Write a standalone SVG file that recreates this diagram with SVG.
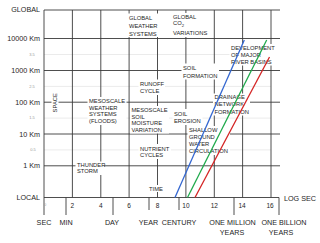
<svg xmlns="http://www.w3.org/2000/svg" width="320" height="243" viewBox="0 0 320 243">
<style>
text{font-family:"Liberation Sans",Arial,Helvetica,sans-serif;fill:#1e1e1e}
.ax{font-size:7.2px}
.lb{font-size:5.8px}
.tk{font-size:6.5px;text-anchor:middle}
.mn{font-size:4px;fill:#9a9a9a}
.g{stroke:#3a3a3a;stroke-width:0.9;fill:none}
.m{stroke:#e2e2e2;stroke-width:0.7;fill:none}
.bg{fill:#fff}
.tr{fill:none;stroke-width:1.3}
</style>
<rect width="320" height="243" fill="#fff"/>
<g id="grid">
<path class="m" d="M44 54.5H271M44 86.4H271M44 118.1H271M44 149.9H271"/>
<path class="g" d="M44 10H280M44 38.5H280M44 70.5H280M44 102.2H280M44 134H280M44 165.8H280M44 197.5H279"/>
<path class="g" d="M44 10V215M72.4 10V197.5M100.8 10V197.5M129.1 10V197.5M157.5 10V197.5M185.9 10V197.5M214.3 10V197.5M242.6 10V197.5M271 10V197.5"/>
<path class="g" d="M66 197.5V215M113 197.5V215M149 197.5V210M179 197.5V210M234 197.5V215M279 197.5V215"/>
</g>
<g id="y-axis">
<text class="ax" x="40" y="11.5" text-anchor="end">GLOBAL</text>
<text class="ax" x="40" y="41" text-anchor="end">10000 Km</text>
<text class="ax" x="40" y="73.2" text-anchor="end">1000 Km</text>
<text class="ax" x="40" y="104.8" text-anchor="end">100 Km</text>
<text class="ax" x="40" y="136.5" text-anchor="end">10 Km</text>
<text class="ax" x="40" y="168.4" text-anchor="end">1 Km</text>
<text class="ax" x="40" y="200" text-anchor="end">LOCAL</text>
<text class="mn" x="32" y="55.8" text-anchor="middle">3.5</text>
<text class="mn" x="32" y="87.7" text-anchor="middle">2.5</text>
<text class="mn" x="32" y="119.4" text-anchor="middle">1.5</text>
<text class="mn" x="33" y="151.2" text-anchor="middle">0.5</text>
</g>
<g id="x-axis">
<text class="mn" x="45" y="205.5" text-anchor="middle">0</text>
<text class="tk" x="72.4" y="207.8">2</text>
<text class="tk" x="100.8" y="207.8">4</text>
<text class="tk" x="129.1" y="207.8">6</text>
<text class="tk" x="157.5" y="207.8">8</text>
<text class="tk" x="185.9" y="207.8">10</text>
<text class="tk" x="214.3" y="207.8">12</text>
<text class="tk" x="242" y="207.8">14</text>
<text class="tk" x="270" y="207.8">16</text>
<text class="ax" x="284" y="200.5">LOG SEC</text>
<text class="ax" x="44" y="225" text-anchor="middle">SEC</text>
<text class="ax" x="66" y="225" text-anchor="middle">MIN</text>
<text class="ax" x="112" y="225" text-anchor="middle">DAY</text>
<text class="ax" x="148.5" y="225" text-anchor="middle">YEAR</text>
<text class="ax" x="179" y="225" text-anchor="middle">CENTURY</text>
<text class="ax" x="232.5" y="225" text-anchor="middle">ONE MILLION</text>
<text class="ax" x="232" y="234.5" text-anchor="middle">YEARS</text>
<text class="ax" x="284" y="225" text-anchor="middle">ONE BILLION</text>
<text class="ax" x="281" y="234.5" text-anchor="middle">YEARS</text>
</g>
<g id="space">
<rect class="bg" x="51.5" y="92" width="7" height="22"/>
<text class="lb" transform="translate(57.3 102.8) rotate(-90)" text-anchor="middle">SPACE</text>
</g>
<g id="global-weather-systems">
<rect class="bg" x="127.5" y="13.5" width="31.5" height="23.5"/>
<text class="lb" x="129" y="19.5">GLOBAL</text>
<text class="lb" x="129" y="27.5">WEATHER</text>
<text class="lb" x="129" y="35.5">SYSTEMS</text>
</g>
<g id="global-co2">
<rect class="bg" x="171.5" y="13" width="36.5" height="24"/>
<text class="lb" x="173" y="18.8">GLOBAL</text>
<text class="lb" x="173" y="25.3">CO<tspan font-size="4.2" dy="1.6">2</tspan></text>
<text class="lb" x="173" y="35.3">VARIATIONS</text>
</g>
<g id="soil-formation">
<rect class="bg" x="181.5" y="63.5" width="37.5" height="16"/>
<text class="lb" x="183" y="70">SOIL</text>
<text class="lb" x="183" y="77.5">FORMATION</text>
</g>
<g id="runoff-cycle">
<rect class="bg" x="138.5" y="79.5" width="26.5" height="15.5"/>
<text class="lb" x="140" y="86">RUNOFF</text>
<text class="lb" x="140" y="93">CYCLE</text>
</g>
<g id="mesoscale-weather">
<rect class="bg" x="87.5" y="97" width="39" height="28"/>
<text class="lb" x="89" y="103">MESOSCALE</text>
<text class="lb" x="89" y="109.5">WEATHER</text>
<text class="lb" x="89" y="116">SYSTEMS</text>
<text class="lb" x="89" y="123">(FLOODS)</text>
</g>
<g id="mesoscale-soil">
<rect class="bg" x="130" y="106" width="39" height="27.5"/>
<text class="lb" x="131.5" y="112">MESOSCALE</text>
<text class="lb" x="131.5" y="118.7">SOIL</text>
<text class="lb" x="131.5" y="125.3">MOISTURE</text>
<text class="lb" x="131.5" y="132">VARIATION</text>
</g>
<g id="soil-erosion">
<rect class="bg" x="172.5" y="109" width="30" height="16"/>
<text class="lb" x="174" y="115.5">SOIL</text>
<text class="lb" x="174" y="123">EROSION</text>
</g>
<g id="nutrient-cycles">
<rect class="bg" x="138.5" y="144" width="32.5" height="15"/>
<text class="lb" x="140" y="150.5">NUTRIENT</text>
<text class="lb" x="140" y="157.3">CYCLES</text>
</g>
<g id="shallow-ground-water">
<rect class="bg" x="187.5" y="126" width="42.5" height="29"/>
<text class="lb" x="189" y="132">SHALLOW</text>
<text class="lb" x="189" y="138.8">GROUND</text>
<text class="lb" x="189" y="145.5">WATER</text>
<text class="lb" x="189" y="153">CIRCULATION</text>
</g>
<g id="thunder-storm">
<rect class="bg" x="75.5" y="161.5" width="28.5" height="13.5"/>
<text class="lb" x="77" y="167.3">THUNDER</text>
<text class="lb" x="77" y="173.3">STORM</text>
</g>
<g id="time">
<rect class="bg" x="148.5" y="185" width="15" height="7"/>
<text class="lb" x="156" y="190.5" text-anchor="middle">TIME</text>
</g>
<g id="drainage-network">
<rect class="bg" x="213" y="93.5" width="37" height="22"/>
<text class="lb" x="214.5" y="99.4">DRAINAGE</text>
<text class="lb" x="214.5" y="106.1">NETWORK</text>
<text class="lb" x="214.5" y="113.8">FORMATION</text>
</g>
<g id="river-basins">
<rect class="bg" x="229.5" y="44" width="46.5" height="21.5"/>
<text class="lb" x="231" y="50.3">DEVELOPMENT</text>
<text class="lb" x="231" y="57">OF MAJOR</text>
<text class="lb" x="231" y="63.7">RIVER BASINS</text>
</g>
<g id="connectors">
<line class="tr" x1="175" y1="197.5" x2="244.3" y2="40" stroke="#3467d0"/>
<line class="tr" x1="187.5" y1="197.5" x2="266.7" y2="40" stroke="#1faa4c"/>
<line class="tr" x1="195" y1="197.5" x2="269.5" y2="57" stroke="#d42424"/>
</g>
</svg>
